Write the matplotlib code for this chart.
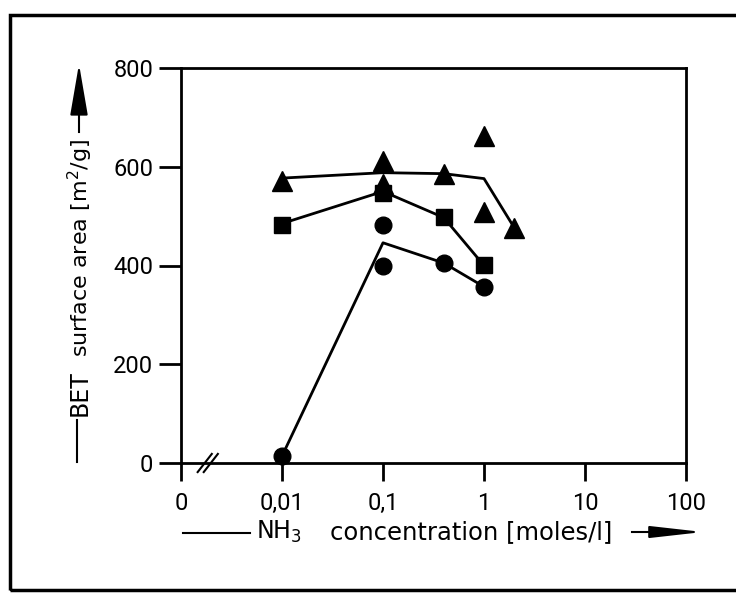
import matplotlib
matplotlib.use("Agg")
import matplotlib.pyplot as plt
from matplotlib.patches import Rectangle
from matplotlib.lines import Line2D

plt.rcParams["font.family"] = ["DejaVu Sans"]

# ── Data ───────────────────────────────────────────────────────────────────────
tri_x = [0.01, 0.1, 0.1, 0.4, 1.0, 1.0, 2.0]
tri_y = [572, 611, 566, 586, 662, 509, 476]
sq_x = [0.01, 0.1, 0.4, 1.0]
sq_y = [482, 546, 499, 401]
circ_x = [0.01, 0.1, 0.1, 0.4, 1.0]
circ_y = [14, 482, 399, 405, 356]

# hand-drawn trend lines
tri_line_x = [0.01, 0.1, 0.4, 1.0, 2.0]
tri_line_y = [577, 588, 586, 576, 476]
sq_line_x = [0.01, 0.1, 0.4, 1.0]
sq_line_y = [485, 550, 497, 400]
circ_line_x = [0.01, 0.1, 0.4, 1.0]
circ_line_y = [14, 446, 405, 357]

xticks = [0.001, 0.01, 0.1, 1, 10, 100]
xtick_labels = ["0", "0,01", "0,1", "1", "10", "100"]
yticks = [0, 200, 400, 600, 800]

# ── Figure ────────────────────────────────────────────────────────────────────
fig = plt.figure(figsize=(7.36, 5.99), dpi=100)
ax = fig.add_axes([181 / 736, 1 - 463 / 599, (686 - 181) / 736, (463 - 68) / 599])

ax.plot(tri_line_x, tri_line_y, color="black", lw=2.0, zorder=2)
ax.plot(sq_line_x, sq_line_y, color="black", lw=2.0, zorder=2)
ax.plot(circ_line_x, circ_line_y, color="black", lw=2.0, zorder=2)

mk = dict(ls="none", color="black", mec="black", zorder=3, clip_on=False)
ax.plot(tri_x, tri_y, marker="^", ms=14, **mk)
ax.plot(sq_x, sq_y, marker="s", ms=11.5, **mk)
ax.plot(circ_x, circ_y, marker="o", ms=12, **mk)

ax.set_xscale("log")
ax.set_xlim(0.001, 100)
ax.set_ylim(0, 800)
ax.set_xticks(xticks)
ax.set_xticklabels(xtick_labels)
ax.minorticks_off()
ax.set_yticks(yticks)

for s in ax.spines.values():
    s.set_linewidth(2.0)
ax.tick_params(axis="x", direction="out", length=13, width=2.0, pad=8,
               labelsize=17, labelfontfamily="Roboto")
ax.tick_params(axis="y", direction="out", length=16, width=2.0, pad=4,
               labelsize=17, labelfontfamily="Roboto")

# axis break mark near zero
for x0 in (0.033, 0.045):
    ax.add_line(Line2D([x0, x0 + 0.028], [-0.023, 0.023],
                       transform=ax.transAxes, color="black", lw=1.5,
                       clip_on=False))

# ── Axis titles with arrows (figure coordinates) ──────────────────────────────
fy = lambda p: 1 - p / 599
fx = lambda p: p / 736

fig.add_artist(Line2D([fx(77), fx(77)], [fy(462), fy(420)],
                      transform=fig.transFigure, color="black", lw=1.5))
fig.text(fx(80), fy(416), "BET", rotation=90,
         ha="center", va="bottom", fontsize=17)
fig.text(fx(80), fy(357), "surface area [m$^2$/g]", rotation=90,
         ha="center", va="bottom", fontsize=16)
fig.add_artist(Line2D([fx(79), fx(79)], [fy(132), fy(100)],
                      transform=fig.transFigure, color="black", lw=1.5))
ax.annotate("", xy=(fx(79), fy(64)), xytext=(fx(79), fy(112)),
            xycoords="figure fraction", textcoords="figure fraction",
            arrowprops=dict(arrowstyle="-|>,head_length=3.2,head_width=0.55",
                            color="black", lw=1.5, shrinkA=0, shrinkB=0))

fig.add_artist(Line2D([fx(183), fx(250)], [fy(533), fy(533)],
                      transform=fig.transFigure, color="black", lw=1.5))
fig.text(fx(256), fy(532), "NH$_3$", ha="left", va="center", fontsize=17)
fig.text(fx(330), fy(532), "concentration [moles/l]",
         ha="left", va="center", fontsize=17.5)
fig.add_artist(Line2D([fx(632), fx(662)], [fy(532), fy(532)],
                      transform=fig.transFigure, color="black", lw=1.5))
ax.annotate("", xy=(fx(703), fy(532)), xytext=(fx(656), fy(532)),
            xycoords="figure fraction", textcoords="figure fraction",
            arrowprops=dict(arrowstyle="-|>,head_length=3.2,head_width=0.36",
                            color="black", lw=1.5, shrinkA=0, shrinkB=0))

# outer frame of the scanned figure
fig.add_artist(Rectangle((fx(10), fy(590)), fx(760) - fx(10), fy(15) - fy(590),
                         transform=fig.transFigure, fill=False,
                         ec="black", lw=2.5))

fig.savefig("out.png", dpi=100)
